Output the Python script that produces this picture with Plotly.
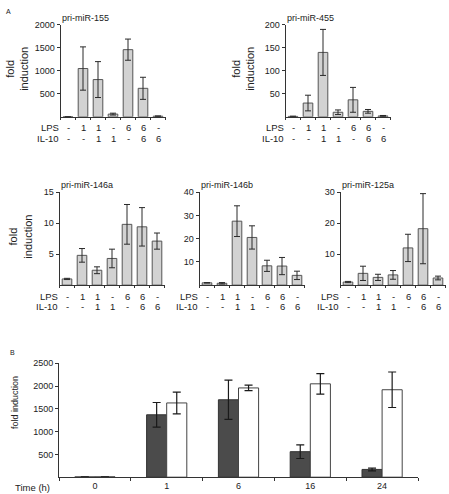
import plotly.graph_objects as go

# ---------------- data ----------------
LPS = ["-", "1", "1", "-", "6", "6", "-"]
IL10 = ["-", "-", "1", "1", "-", "6", "6"]
cats = list(range(7))

mir155 = [3, 1050, 810, 60, 1460, 620, 15]
mir155_err = [2, 470, 390, 20, 230, 240, 5]

mir455 = [1, 30, 140, 10, 37, 12, 2]
mir455_err = [0.5, 17, 50, 5, 27, 4, 1]

mir146a = [1.0, 4.8, 2.4, 4.3, 9.8, 9.4, 7.1]
mir146a_err = [0.1, 1.1, 0.55, 1.5, 3.2, 3.1, 1.3]

mir146b = [1.0, 0.8, 27.5, 20.5, 8.3, 8.2, 4.2]
mir146b_err = [0.1, 0.3, 6.6, 5.0, 2.4, 3.7, 1.8]

mir125a = [1.0, 3.8, 2.5, 3.3, 12.0, 18.2, 2.3]
mir125a_err = [0.2, 2.3, 1.0, 1.4, 4.4, 11.3, 0.6]

times = ["0", "1", "6", "16", "24"]
b_dark = [5, 1370, 1700, 560, 170]
b_dark_err = [0, 270, 430, 150, 30]
b_white = [8, 1630, 1960, 2050, 1920]
b_white_err = [0, 240, 60, 225, 390]

# ---------------- layout helpers ----------------
W, H = 449, 494
FONT = "Arial, Liberation Sans, sans-serif"
TXT = "#222222"


def px(x):
    return x / W


def py(y):
    return 1 - y / H


panelsA = [
    # title, values, errors, x-domain px, y-domain px (top,bottom), ymax, dtick, ytitle x
    ("pri-miR-155", mir155, mir155_err, (60.5, 165.5), (20, 113), 2000, 500, 17),
    ("pri-miR-455", mir455, mir455_err, (285.5, 390.5), (20, 113), 200, 50, 243),
    ("pri-miR-146a", mir146a, mir146a_err, (59.5, 164.5), (189, 283), 15, 5, 20),
    ("pri-miR-146b", mir146b, mir146b_err, (199.5, 304.5), (189, 283), 40, 10, None),
    ("pri-miR-125a", mir125a, mir125a_err, (340.5, 445.5), (189, 283), 30, 10, None),
]

fig = go.Figure()
layout = dict(
    width=W, height=H, margin=dict(l=0, r=0, t=0, b=0),
    paper_bgcolor="white", plot_bgcolor="white",
    showlegend=False, barmode="overlay",
    font=dict(family=FONT, size=9, color=TXT),
)
annotations = []

for k, (title, vals, errs, xd, yd, ymax, dt, ytx) in enumerate(panelsA, start=1):
    xa = "x" if k == 1 else f"x{k}"
    ya = "y" if k == 1 else f"y{k}"
    fig.add_trace(go.Bar(
        x=cats, y=vals, width=0.64, xaxis=xa, yaxis=ya,
        marker=dict(color="#d2d2d2", line=dict(color="#555555", width=1)),
        error_y=dict(type="data", array=errs, color="#2a2a2a", thickness=1, width=3),
    ))
    layout["xaxis" if k == 1 else f"xaxis{k}"] = dict(
        domain=[px(xd[0]), px(xd[1])], anchor=ya, range=[-0.5, 6.5],
        showline=True, linecolor="#333333", linewidth=1, showgrid=False,
        zeroline=False, showticklabels=False, ticks="",
        minor=dict(ticks="outside", tick0=-0.5, dtick=1, ticklen=2,
                   tickcolor="#333333", showgrid=False),
    )
    layout["yaxis" if k == 1 else f"yaxis{k}"] = dict(
        domain=[py(yd[1]), py(yd[0])], anchor=xa, range=[0, ymax],
        showline=True, linecolor="#333333", linewidth=1, showgrid=False,
        zeroline=False, ticks="outside", ticklen=3, tickcolor="#333333",
        tickvals=list(range(dt, ymax + 1, dt)), tickfont=dict(size=9, color=TXT),
    )
    first_cat_px = xd[0] + 7.5
    # panel title
    annotations.append(dict(text=title, xref="paper", yref="paper",
                            x=px(xd[0] - 1), y=py(yd[0] - 7), xanchor="left",
                            yanchor="middle", showarrow=False,
                            font=dict(size=9, color=TXT)))
    # condition rows
    row_y = (yd[1] + 11, yd[1] + 22)
    for lab, rowvals, ry in (("LPS", LPS, row_y[0]), ("IL-10", IL10, row_y[1])):
        annotations.append(dict(text=lab, xref="paper", yref="paper",
                                x=px(first_cat_px - 7), y=py(ry), xanchor="right",
                                yanchor="middle", showarrow=False,
                                font=dict(size=9.5, color=TXT)))
        for c, v in zip(cats, rowvals):
            annotations.append(dict(text=v, xref=xa, yref="paper", x=c, y=py(ry),
                                    xanchor="center", yanchor="middle",
                                    showarrow=False, font=dict(size=9.5, color=TXT)))
    if ytx is not None:
        annotations.append(dict(text="fold<br>induction", xref="paper", yref="paper",
                                x=px(ytx), y=py((yd[0] + yd[1]) / 2 - 2),
                                xanchor="center", yanchor="middle", textangle=-90,
                                showarrow=False, font=dict(size=11, color=TXT)))

# ---------------- panel B ----------------
tx = list(range(len(times)))
fig.add_trace(go.Bar(
    x=tx, y=b_dark, width=0.28, offset=-0.28, xaxis="x6", yaxis="y6",
    marker=dict(color="#4b4b4b", line=dict(color="#333333", width=1)),
    error_y=dict(type="data", array=b_dark_err, color="#1a1a1a", thickness=1.2, width=4),
))
fig.add_trace(go.Bar(
    x=tx, y=b_white, width=0.28, offset=0, xaxis="x6", yaxis="y6",
    marker=dict(color="#ffffff", line=dict(color="#444444", width=1)),
    error_y=dict(type="data", array=b_white_err, color="#1a1a1a", thickness=1.2, width=4),
))
layout["xaxis6"] = dict(
    domain=[px(59), px(418)], anchor="y6", range=[-0.5, 4.5],
    showline=True, linecolor="#333333", linewidth=1, showgrid=False, zeroline=False,
    tickvals=tx, ticktext=times, ticks="", tickfont=dict(size=9, color=TXT),
    minor=dict(ticks="outside", tick0=0.5, dtick=1, ticklen=3,
               tickcolor="#333333", showgrid=False),
)
layout["yaxis6"] = dict(
    domain=[py(477), py(362)], anchor="x6", range=[0, 2500],
    showline=True, linecolor="#333333", linewidth=1, showgrid=False, zeroline=False,
    ticks="outside", ticklen=3, tickcolor="#333333",
    tickvals=[500, 1000, 1500, 2000, 2500], tickfont=dict(size=9, color=TXT),
)
annotations += [
    dict(text="Time (h)", xref="paper", yref="paper", x=px(52), y=py(487),
         xanchor="right", yanchor="middle", showarrow=False, font=dict(size=9.5, color=TXT)),
    dict(text="fold induction", xref="paper", yref="paper", x=px(15), y=py(402),
         xanchor="center", yanchor="middle", textangle=-90, showarrow=False,
         font=dict(size=9, color=TXT)),
    dict(text="A", xref="paper", yref="paper", x=px(8), y=py(7), xanchor="center",
         yanchor="middle", showarrow=False, font=dict(size=7, color=TXT)),
    dict(text="B", xref="paper", yref="paper", x=px(12), y=py(351), xanchor="center",
         yanchor="middle", showarrow=False, font=dict(size=7, color=TXT)),
]
layout["annotations"] = annotations
fig.update_layout(**layout)
fig.write_html(
    "out.html",
    config={"displayModeBar": False, "staticPlot": True},
    post_script="document.body.style.margin='0';document.body.style.overflow='hidden';",
)
